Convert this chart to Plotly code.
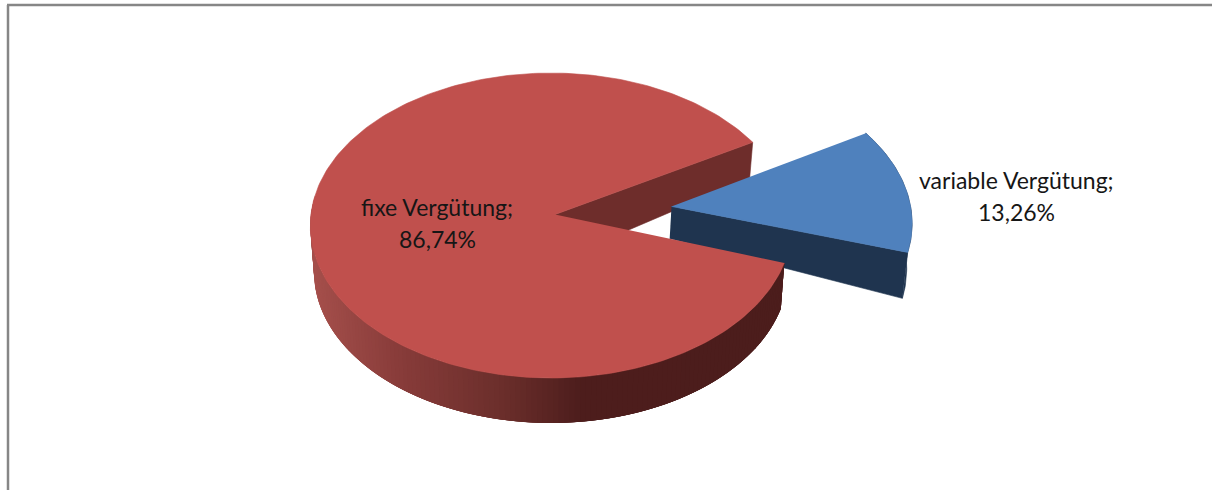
import numpy as np
import plotly.graph_objects as go

# ---- data ----
categories = ["fixe Vergütung", "variable Vergütung"]
shares = [86.74, 13.26]
value_labels = ["86,74%", "13,26%"]

# ---- view of the tilted pie (pixel space of the hidden axes) ----
W, H = 1212, 490
X0, Y0, A, B = 551, 214, 240, 151.6
K = 0.0755        # perspective along the depth of the disc
Q = 0.015         # shrink of the lower face
RED_GAP_CENTRE = 5.5
BLUE_CENTRE = 6.5
PULL_X, PULL_Y = 0.504, 0.05
RED_TOP, BLUE_TOP = "#c0504d", "#4f81bd"
RED_WALL, BLUE_SIDE = "#6e2d2b", "#1f344f"
GRAD_X = [311, 400, 500, 580, 784]
GRAD_RGB = [(166, 80, 76), (136, 60, 58), (108, 47, 44), (78, 30, 29), (76, 29, 28)]


def project(X, Y):
    p = 1 / (1 + K * Y)
    return X0 + A * X * p, Y0 - B * Y * p


def rim_depth(Y):
    return np.interp(Y, [-1, -0.2, 0.55], [45, 46, 35])


def lower(x, y, depth):
    return X0 + (x - X0) * (1 - Q), y + depth


def poly(xs, ys, color, name, edge=0.6):
    return go.Scatter(x=list(xs), y=list(ys), mode="lines", fill="toself",
                      fillcolor=color, line=dict(color=color, width=edge),
                      hoverinfo="skip", showlegend=False, name=name)


red_gap = 360 * shares[1] / 100
red_start = RED_GAP_CENTRE + red_gap / 2
red_end = red_start + 360 * shares[0] / 100
red_theta = np.radians(np.linspace(red_start, red_end, 260))
red_X, red_Y = np.cos(red_theta), np.sin(red_theta)
rx, ry = project(red_X, red_Y)
red_depth = rim_depth(red_Y)
rbx, rby = lower(rx, ry, red_depth)
apex_r = (X0 + 4, Y0 + 0.5)
apex_r_low = (X0 + 4, Y0 + 47.5)

blue_half = 360 * shares[1] / 100 / 2
blue_theta = np.radians(np.linspace(BLUE_CENTRE - blue_half, BLUE_CENTRE + blue_half, 60))
bx_m, by_m = PULL_X + np.cos(blue_theta), PULL_Y + np.sin(blue_theta)
bx, by = project(bx_m, by_m)
bbx, bby = lower(bx, by, rim_depth(by_m))
ax, ay = project(PULL_X, PULL_Y)
ax_low, ay_low = lower(ax, ay, 32)

traces = []
# inner wall of the large slice
traces.append(poly([apex_r[0], rx[0], rbx[0], apex_r_low[0]],
                   [apex_r[1], ry[0], rby[0], apex_r_low[1]], RED_WALL, "wall"))
# pulled-out slice
traces.append(poly([ax, bx[0], bbx[0], ax_low], [ay, by[0], bby[0], ay_low], BLUE_SIDE, "side"))
traces.append(poly(np.r_[bx, bbx[::-1]], np.r_[by, bby[::-1]], BLUE_SIDE, "rim"))
traces.append(poly(np.r_[ax, bx], np.r_[ay, by], BLUE_TOP, categories[1]))
# outer wall of the large slice, shaded by position: each strip overlaps the next
n = len(rx)
for i in range(n - 1):
    mx = (rx[i] + rx[min(i + 1, n - 1)]) / 2
    if ry[i] < Y0 - 20:
        continue
    rgb = [np.interp(mx, GRAD_X, [c[j] for c in GRAD_RGB]) for j in range(3)]
    col = "rgb(%d,%d,%d)" % tuple(rgb)
    e = min(i + 4, n - 1)
    traces.append(poly(np.r_[rx[i:e + 1], rbx[i:e + 1][::-1]],
                       np.r_[ry[i:e + 1], rby[i:e + 1][::-1]], col, "edge", edge=0))
traces.append(poly(np.r_[apex_r[0], rx], np.r_[apex_r[1], ry], RED_TOP, categories[0]))

fig = go.Figure(traces)

FONT = dict(family="Lato, Carlito, sans-serif", size=23, color="#161616")
labels = [
    (437, 207, categories[0] + ";"), (437, 239, value_labels[0]),
    (1016, 180, categories[1] + ";"), (1016, 212, value_labels[1]),
]
for lx, ly, text in labels:
    fig.add_annotation(x=lx, y=ly, text=text, showarrow=False, font=FONT,
                       xanchor="center", yanchor="middle")

fig.add_shape(type="line", x0=8, x1=8, y0=5, y1=490, line=dict(color="#868686", width=2.5))
fig.add_shape(type="line", x0=7, x1=W, y0=5, y1=5, line=dict(color="#868686", width=2.5))

fig.update_layout(width=W, height=H, autosize=False,
                  margin=dict(l=0, r=0, t=0, b=0),
                  paper_bgcolor="white", plot_bgcolor="white", showlegend=False,
                  xaxis=dict(range=[0, W], visible=False, fixedrange=True),
                  yaxis=dict(range=[H, 0], visible=False, fixedrange=True))

fig.write_html("out.html", config={"displayModeBar": False},
               post_script="document.body.style.margin='0';document.body.style.overflow='hidden';")
